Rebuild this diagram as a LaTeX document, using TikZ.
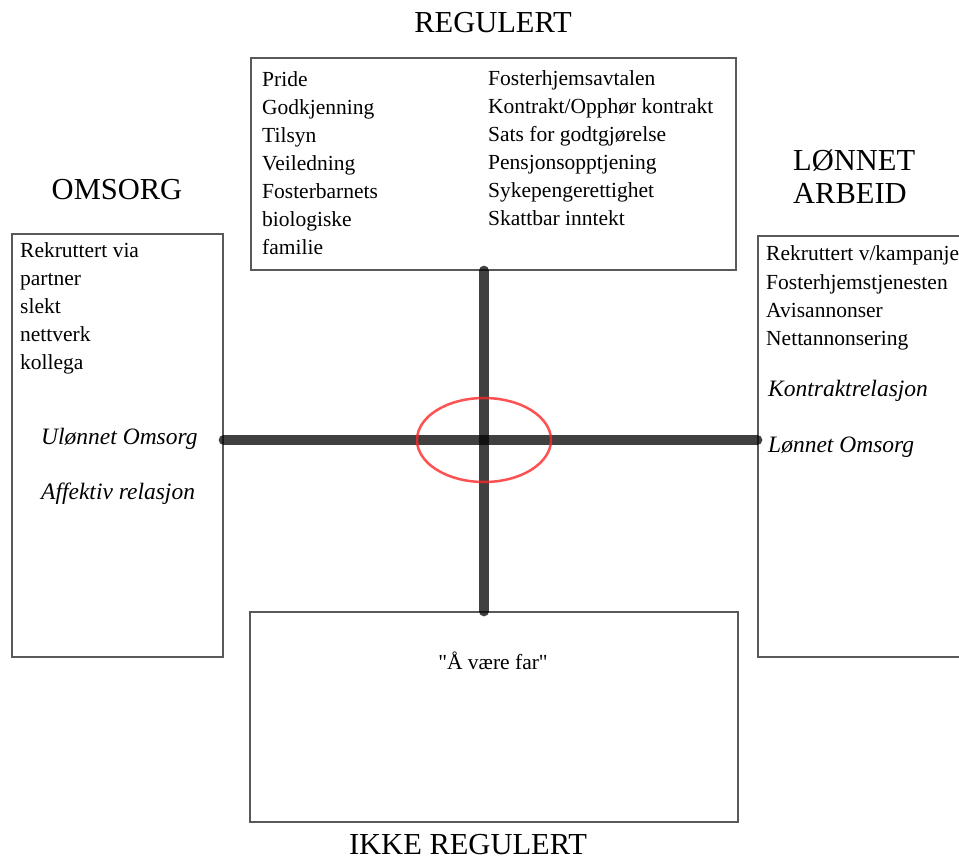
\documentclass[tikz,border=0pt]{standalone}
\usepackage{fontspec}
\setmainfont{Liberation Serif}
\newfontfamily\qfont{Liberation Serif}
\usetikzlibrary{shapes.geometric}
\begin{document}
\begin{tikzpicture}[x=1pt,y=-1pt,
  box/.style={draw=black!65,line width=1.3pt,fill=white,inner sep=0pt},
  txt/.style={anchor=mid west,inner sep=0pt,font=\fontsize{21.5}{26}\selectfont},
  itx/.style={txt,font=\fontsize{23.5}{26}\selectfont\itshape},
  ttl/.style={inner sep=0pt,font=\fontsize{30.5}{33}\selectfont},
  bar/.style={line width=10pt,black,opacity=0.75,line cap=round},
  ring/.style={draw=red!85!white,line width=2.5pt,opacity=0.8}]
\clip (0,0) rectangle (959,860);
\fill[white] (0,0) rectangle (959,860);
% boxes
\node[box,minimum width=485pt,minimum height=212pt] (reg) at (493.5,164) {};
\node[box,minimum width=211pt,minimum height=423pt] (oms) at (117.5,445.5) {};
\node[box,minimum width=242pt,minimum height=421pt] (lon) at (879,446.5) {};
\node[box,minimum width=488pt,minimum height=210pt] (ikke) at (494,717) {};
\coordinate (c) at (484,440);
% axes
\draw[bar] (reg.south -| c) -- (ikke.north -| c);
\draw[bar] (oms.east |- c) -- (lon.west |- c);
\node[ring,ellipse,minimum width=134pt,minimum height=84pt,inner sep=0pt] (ring) at (c) {};
% titles
\node[ttl,anchor=mid] (tReg) at (493,30) {REGULERT};
\node[ttl,anchor=mid] (tOms) at (117,197) {OMSORG};
\node[ttl,anchor=mid west] (tLon1) at (793,168) {LØNNET};
\node[ttl,anchor=mid west] (tLon2) at (793,201) {ARBEID};
\node[ttl,anchor=mid] (tIkke) at (468,852) {IKKE REGULERT};
% top box text
\node[txt] (a1) at (262,84) {Pride};
\node[txt] (a2) at (262,112) {Godkjenning};
\node[txt] (a3) at (262,140) {Tilsyn};
\node[txt] (a4) at (262,168) {Veiledning};
\node[txt] (a5) at (262,196) {Fosterbarnets};
\node[txt] (a6) at (262,224) {biologiske};
\node[txt] (a7) at (262,252) {familie};
\node[txt] (b1) at (488,83) {Fosterhjemsavtalen};
\node[txt] (b2) at (488,111) {Kontrakt/Opphør kontrakt};
\node[txt] (b3) at (488,139) {Sats for godtgjørelse};
\node[txt] (b4) at (488,167) {Pensjonsopptjening};
\node[txt] (b5) at (488,195) {Sykepengerettighet};
\node[txt] (b6) at (488,223) {Skattbar inntekt};
% left box text
\node[txt] (l1) at (20,255) {Rekruttert via};
\node[txt] (l2) at (20,283) {partner};
\node[txt] (l3) at (20,311) {slekt};
\node[txt] (l4) at (20,339) {nettverk};
\node[txt] (l5) at (20,367) {kollega};
\node[itx] (l6) at (41,442) {Ulønnet Omsorg};
\node[itx] (l7) at (41,497) {Affektiv relasjon};
% right box text
\node[txt] (r1) at (766,258) {Rekruttert v/kampanje};
\node[txt] (r2) at (766,287) {Fosterhjemstjenesten};
\node[txt] (r3) at (766,315) {Avisannonser};
\node[txt] (r4) at (766,343) {Nettannonsering};
\node[itx] (r5) at (768,394) {Kontraktrelasjon};
\node[itx] (r6) at (768,450) {Lønnet Omsorg};
% bottom box text
\node[txt,anchor=mid,font=\fontsize{21.5}{26}\qfont] (f1) at (493,667) {"Å være far"};
\end{tikzpicture}
\end{document}
